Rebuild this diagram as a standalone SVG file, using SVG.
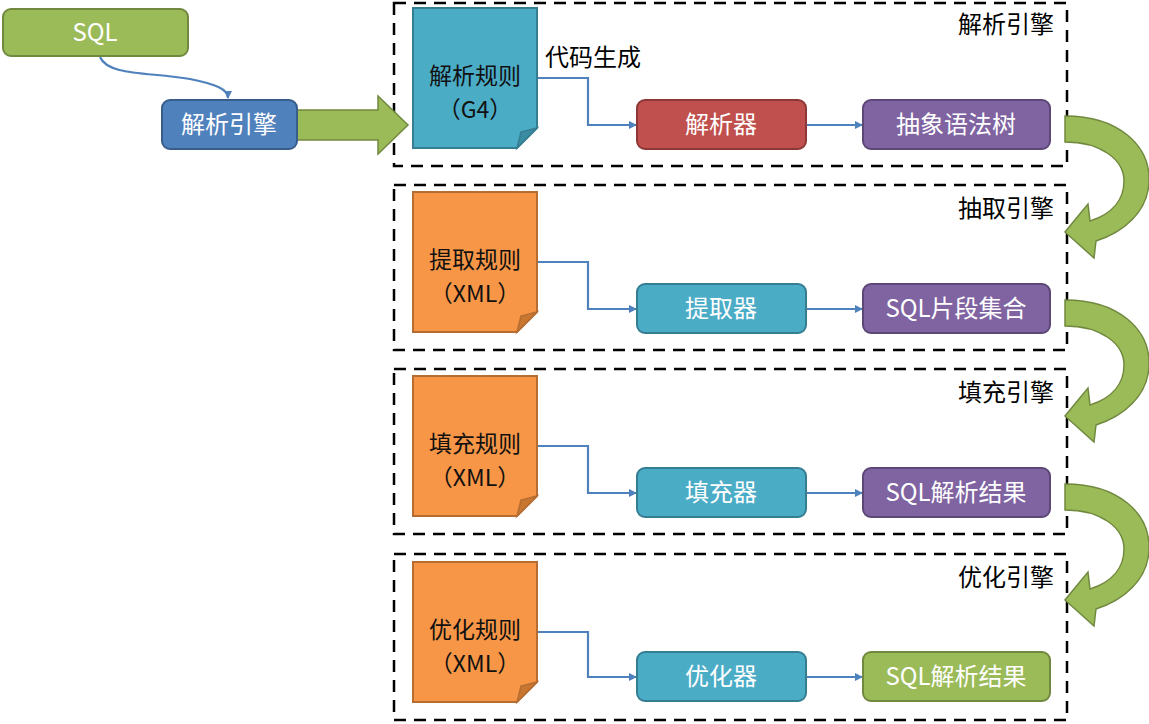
<svg xmlns="http://www.w3.org/2000/svg" width="1149" height="724" viewBox="0 0 1149 724">
<defs>
<marker id="ah" markerWidth="8" markerHeight="8" refX="7" refY="4" orient="auto" markerUnits="userSpaceOnUse">
<path d="M0,0 L8,4 L0,8 Z" fill="#4F81BD"/>
</marker>
<path id="curl" d="M1065,116 C1118,116 1151,145 1149,183 C1147,212 1124,232 1096,241 L1094,258 L1065,232 L1088,204 L1090,221 C1112,214 1124,200 1124,181 C1124,159 1100,142 1065,142 Z"/>
<path id="doc" d="M0,0 H124 V120 L104,140 H0 Z"/>
<path id="fold" d="M104,140 L108,124 L124,120 Z"/>
</defs>
<style>
.box{fill:none;stroke:#000;stroke-width:2.5;stroke-dasharray:12 8}
.lab{font-family:"Noto Sans CJK SC","Noto Sans",sans-serif;font-size:24px;fill:#000}
.nt{font-family:"Noto Sans CJK SC","Noto Sans",sans-serif;font-size:24px;fill:#fff;text-anchor:middle}
.dt{font-family:"Noto Sans CJK SC","Noto Sans",sans-serif;font-size:23px;fill:#111;text-anchor:middle}
.conn{fill:none;stroke:#4F81BD;stroke-width:2.2;marker-end:url(#ah)}
.green{fill:#9BBB59;stroke:#71893F;stroke-width:2}
.blue{fill:#4F81BD;stroke:#385D8A;stroke-width:2}
.red{fill:#C0504D;stroke:#8C3836;stroke-width:2}
.purple{fill:#8064A2;stroke:#5C4776;stroke-width:2}
.teal{fill:#4BACC6;stroke:#357D91;stroke-width:2}
.docb{fill:#4BACC6;stroke:#357D91;stroke-width:2}
.foldb{fill:#3A8CA3;stroke:#357D91;stroke-width:1.5}
.doco{fill:#F79646;stroke:#B66D31;stroke-width:2}
.foldo{fill:#C97631;stroke:#B66D31;stroke-width:1.5}
.arr{fill:#9BBB59;stroke:#71893F;stroke-width:1.5}
</style>

<g id="frames">
<rect class="box" x="394" y="3" width="673" height="163"/>
<rect class="box" x="394" y="185" width="673" height="165"/>
<rect class="box" x="394" y="369" width="673" height="165"/>
<rect class="box" x="394" y="554" width="673" height="166"/>
<text class="lab" x="1054" y="33" text-anchor="end">解析引擎</text>
<text class="lab" x="1054" y="217" text-anchor="end">抽取引擎</text>
<text class="lab" x="1054" y="401" text-anchor="end">填充引擎</text>
<text class="lab" x="1054" y="586" text-anchor="end">优化引擎</text>
</g>

<g id="connectors">
<path class="conn" d="M100,57 C108,76 150,72 190,79 C215,84 228,89 228,98"/>
<path class="arr" d="M297,110 H378 V96 L408,125 L378,154 V140 H297 Z"/>
<path class="conn" d="M537,78 H588 V125 H636"/>
<path class="conn" d="M806,125 H862"/>
<path class="conn" d="M537,262 H588 V309 H636"/>
<path class="conn" d="M806,309 H862"/>
<path class="conn" d="M537,446 H588 V493 H636"/>
<path class="conn" d="M806,493 H862"/>
<path class="conn" d="M537,632 H588 V677 H636"/>
<path class="conn" d="M806,677 H862"/>
<use href="#curl" class="arr"/>
<use href="#curl" class="arr" transform="translate(0,184)"/>
<use href="#curl" class="arr" transform="translate(0,368)"/>
<text class="lab" x="545" y="66">代码生成</text>
</g>

<g id="sql">
<rect class="green" x="3" y="9" width="185" height="47" rx="8"/>
<text class="nt" x="95" y="41">SQL</text>
</g>
<g id="parse-engine">
<rect class="blue" x="162" y="100" width="135" height="49" rx="8"/>
<text class="nt" x="229" y="133">解析引擎</text>
</g>

<g id="rule-g4" transform="translate(413,8)">
<use href="#doc" class="docb"/>
<use href="#fold" class="foldb"/>
<text class="dt" x="62" y="76">解析规则</text>
<text class="dt" x="62" y="110">（G4）</text>
</g>
<g id="parser">
<rect class="red" x="637" y="100" width="169" height="49" rx="8"/>
<text class="nt" x="721" y="133">解析器</text>
</g>
<g id="ast">
<rect class="purple" x="863" y="100" width="187" height="49" rx="8"/>
<text class="nt" x="956" y="133">抽象语法树</text>
</g>

<g id="rule-extract" transform="translate(413,192)">
<use href="#doc" class="doco"/>
<use href="#fold" class="foldo"/>
<text class="dt" x="62" y="76">提取规则</text>
<text class="dt" x="62" y="110">（XML）</text>
</g>
<g id="extractor">
<rect class="teal" x="637" y="284" width="169" height="49" rx="8"/>
<text class="nt" x="721" y="317">提取器</text>
</g>
<g id="sql-fragments">
<rect class="purple" x="863" y="284" width="187" height="49" rx="8"/>
<text class="nt" x="956" y="317">SQL片段集合</text>
</g>

<g id="rule-fill" transform="translate(413,376)">
<use href="#doc" class="doco"/>
<use href="#fold" class="foldo"/>
<text class="dt" x="62" y="76">填充规则</text>
<text class="dt" x="62" y="110">（XML）</text>
</g>
<g id="filler">
<rect class="teal" x="637" y="468" width="169" height="49" rx="8"/>
<text class="nt" x="721" y="501">填充器</text>
</g>
<g id="sql-result-1">
<rect class="purple" x="863" y="468" width="187" height="49" rx="8"/>
<text class="nt" x="956" y="501">SQL解析结果</text>
</g>

<g id="rule-opt" transform="translate(413,562)">
<use href="#doc" class="doco"/>
<use href="#fold" class="foldo"/>
<text class="dt" x="62" y="76">优化规则</text>
<text class="dt" x="62" y="110">（XML）</text>
</g>
<g id="optimizer">
<rect class="teal" x="637" y="652" width="169" height="49" rx="8"/>
<text class="nt" x="721" y="685">优化器</text>
</g>
<g id="sql-result-2">
<rect class="green" x="863" y="652" width="187" height="49" rx="8"/>
<text class="nt" x="956" y="685">SQL解析结果</text>
</g>
</svg>
